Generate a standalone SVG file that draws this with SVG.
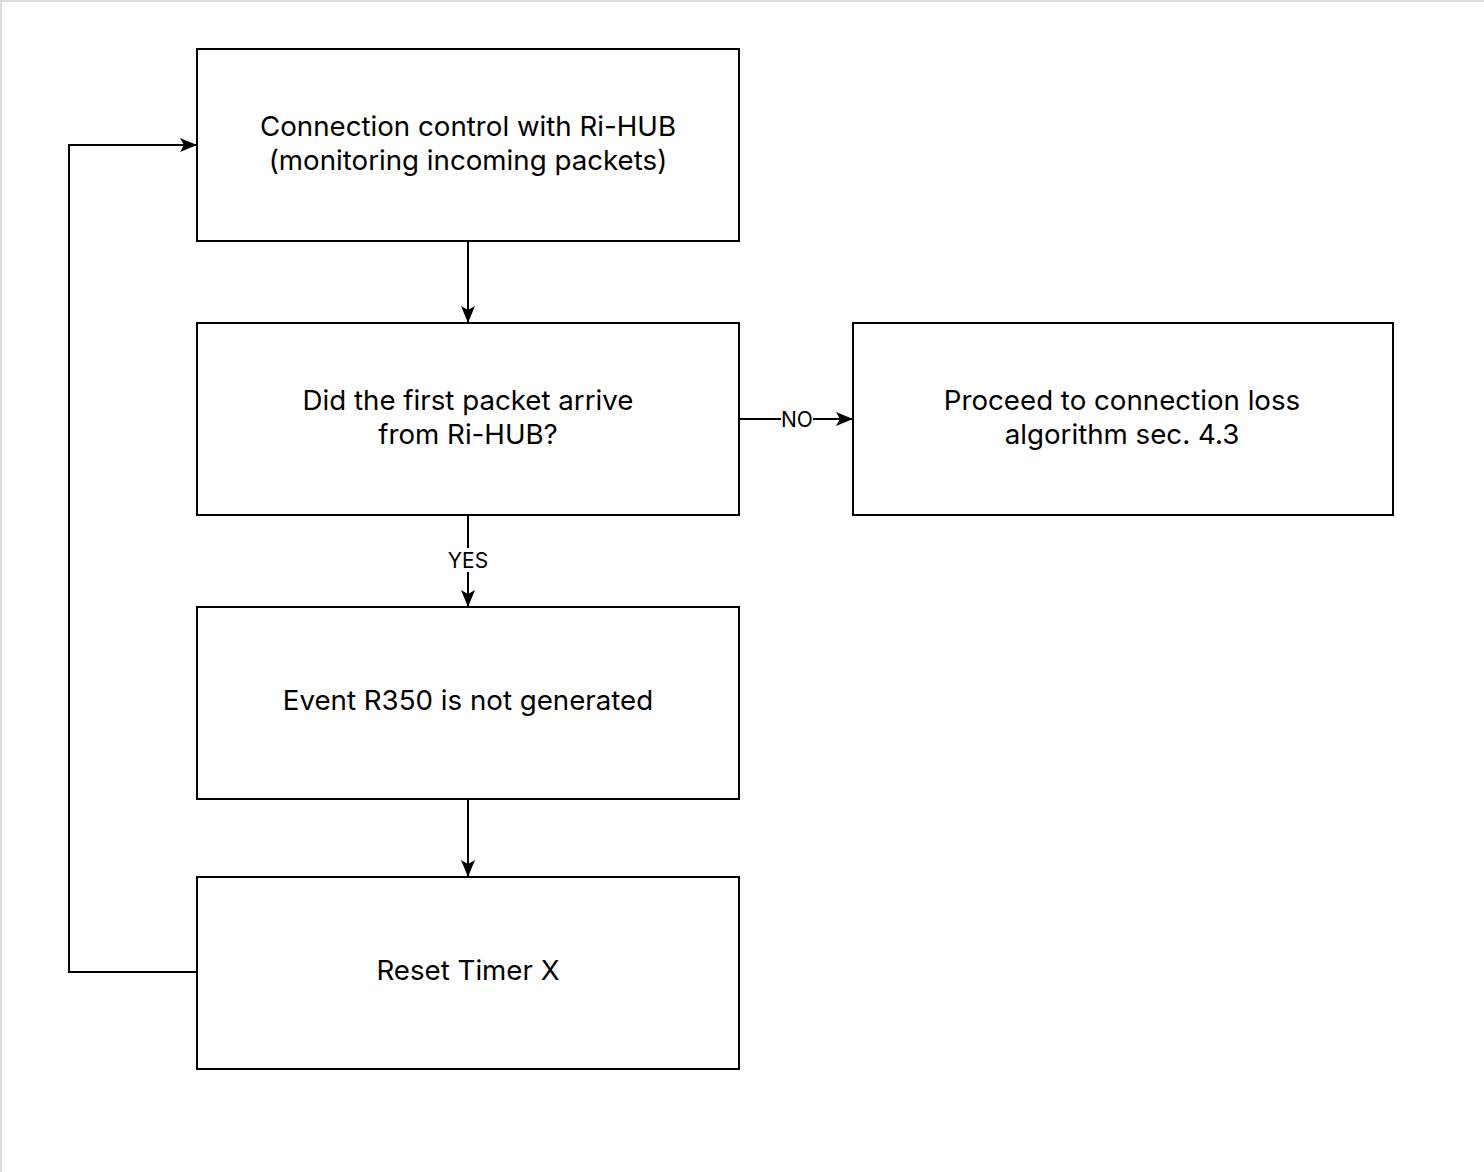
<svg xmlns="http://www.w3.org/2000/svg" width="1484" height="1172" viewBox="0 0 1484 1172">
<style>
.box{fill:#fff;stroke:#000;stroke-width:2}
.t{font-family:Inter,"Noto Sans","Liberation Sans",sans-serif;font-size:27.7px;fill:#000;text-anchor:middle;dominant-baseline:central}
.l{font-family:Inter,"Noto Sans","Liberation Sans",sans-serif;font-size:21px;fill:#000;text-anchor:middle;dominant-baseline:central}
.c{fill:none;stroke:#000;stroke-width:2}
</style>
<defs>
<marker id="arr" markerWidth="17" markerHeight="14" refX="16" refY="7" orient="auto" markerUnits="userSpaceOnUse">
<path d="M0,0 L17,7 L0,14 L4,7 Z" fill="#000"/>
</marker>
</defs>
<rect width="1484" height="1172" fill="#fff"/>
<path d="M0,1 H1484 M1,0 V1172" stroke="#dcdcdc" stroke-width="2"/>
<g id="connectors">
<path class="c" d="M468,241 V322" marker-end="url(#arr)"/>
<path class="c" d="M468,515 V606" marker-end="url(#arr)"/>
<path class="c" d="M468,799 V876" marker-end="url(#arr)"/>
<path class="c" d="M739,419 H852" marker-end="url(#arr)"/>
<path class="c" d="M197,972 H69 V145 H196" marker-end="url(#arr)"/>
<rect x="445" y="548" width="46" height="24" fill="#fff"/>
<text class="l" x="468" y="560">YES</text>
<rect x="781" y="407" width="32" height="24" fill="#fff"/>
<text class="l" x="797" y="419">NO</text>
</g>
<g id="node1">
<rect class="box" x="197" y="49" width="542" height="192"/>
<text class="t" x="468" y="126">Connection control with Ri-HUB</text>
<text class="t" x="468" y="160">(monitoring incoming packets)</text>
</g>
<g id="node2">
<rect class="box" x="197" y="323" width="542" height="192"/>
<text class="t" x="468" y="400">Did the first packet arrive</text>
<text class="t" x="468" y="434">from Ri-HUB?</text>
</g>
<g id="node3">
<rect class="box" x="853" y="323" width="540" height="192"/>
<text class="t" x="1122" y="400">Proceed to connection loss</text>
<text class="t" x="1122" y="434">algorithm sec. 4.3</text>
</g>
<g id="node4">
<rect class="box" x="197" y="607" width="542" height="192"/>
<text class="t" x="468" y="700">Event R350 is not generated</text>
</g>
<g id="node5">
<rect class="box" x="197" y="877" width="542" height="192"/>
<text class="t" x="468" y="970">Reset Timer X</text>
</g>
</svg>
